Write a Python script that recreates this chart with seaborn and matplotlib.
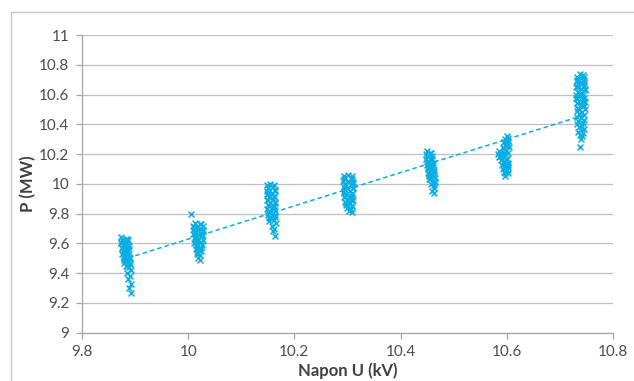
import matplotlib
matplotlib.use("Agg")
import matplotlib.pyplot as plt
import pandas as pd
import seaborn as sns
from matplotlib.patches import Rectangle

# measured points, one pair of lists per voltage step
x1 = [9.874, 9.882, 9.876, 9.886, 9.879, 9.873, 9.884, 9.877, 9.881, 9.888, 9.875, 9.883, 9.889, 9.878, 9.885, 9.876,
      9.887, 9.880, 9.890, 9.882, 9.888, 9.879, 9.891, 9.884, 9.889, 9.892, 9.885, 9.891, 9.887, 9.893, 9.889, 9.892,
      9.885, 9.874, 9.886, 9.876, 9.887, 9.879, 9.889, 9.880, 9.890, 9.883]
y1 = [9.64, 9.63, 9.62, 9.62, 9.61, 9.60, 9.60, 9.59, 9.58, 9.58, 9.57, 9.56, 9.56, 9.55, 9.54, 9.53,
      9.52, 9.51, 9.50, 9.49, 9.48, 9.47, 9.46, 9.45, 9.44, 9.42, 9.40, 9.38, 9.36, 9.33, 9.30, 9.27,
      9.63, 9.61, 9.59, 9.57, 9.55, 9.53, 9.51, 9.49, 9.47, 9.45]

x2 = [10.006, 10.012, 10.022, 10.010, 10.027, 10.016, 10.024, 10.011, 10.019, 10.028, 10.013, 10.023, 10.010, 10.026,
      10.015, 10.012, 10.025, 10.018, 10.027, 10.014, 10.023, 10.011, 10.026, 10.017, 10.021, 10.014, 10.025, 10.016,
      10.022, 10.018, 10.023,
      10.025, 10.011, 10.027, 10.013, 10.026, 10.012, 10.024, 10.014, 10.025, 10.016]
y2 = [9.80, 9.74, 9.73, 9.72, 9.72, 9.71, 9.70, 9.70, 9.69, 9.68, 9.68, 9.67, 9.66, 9.66, 9.65, 9.64,
      9.64, 9.63, 9.62, 9.61, 9.60, 9.60, 9.59, 9.58, 9.57, 9.56, 9.55, 9.53, 9.52, 9.50, 9.49,
      9.73, 9.71, 9.69, 9.67, 9.65, 9.63, 9.61, 9.59, 9.57, 9.54]

x3 = [10.155, 10.149, 10.160, 10.151, 10.163, 10.148, 10.157, 10.150, 10.162, 10.152, 10.159, 10.148, 10.164, 10.154,
      10.150, 10.161, 10.157, 10.149, 10.163, 10.153, 10.160, 10.151, 10.164, 10.156, 10.161, 10.153, 10.165, 10.158,
      10.162, 10.160, 10.163,
      10.161, 10.150, 10.163, 10.149, 10.162, 10.151, 10.164, 10.152, 10.162, 10.150, 10.163, 10.153]
y3 = [10.00, 9.99, 9.98, 9.97, 9.96, 9.95, 9.94, 9.93, 9.92, 9.91, 9.90, 9.89, 9.88, 9.87, 9.86, 9.85,
      9.84, 9.83, 9.82, 9.81, 9.80, 9.79, 9.78, 9.77, 9.76, 9.75, 9.74, 9.72, 9.70, 9.68, 9.65,
      9.99, 9.97, 9.95, 9.93, 9.91, 9.89, 9.87, 9.85, 9.83, 9.81, 9.79, 9.77]

x4 = [10.301, 10.294, 10.306, 10.296, 10.309, 10.292, 10.303, 10.311, 10.295, 10.307, 10.293, 10.300, 10.310, 10.296,
      10.305, 10.293, 10.308, 10.298, 10.304, 10.294, 10.309, 10.299, 10.307, 10.295, 10.305, 10.298, 10.309, 10.300,
      10.307, 10.302, 10.308,
      10.308, 10.293, 10.310, 10.295, 10.311, 10.294, 10.309, 10.296, 10.310, 10.297, 10.308]
y4 = [10.06, 10.05, 10.04, 10.04, 10.03, 10.02, 10.01, 10.00, 10.00, 9.99, 9.98, 9.97, 9.97, 9.96, 9.95, 9.94,
      9.94, 9.93, 9.92, 9.91, 9.91, 9.90, 9.89, 9.88, 9.87, 9.86, 9.85, 9.84, 9.83, 9.82, 9.81,
      10.05, 10.03, 10.01, 9.99, 9.97, 9.95, 9.93, 9.91, 9.89, 9.87, 9.85]

x5 = [10.450, 10.456, 10.447, 10.459, 10.452, 10.448, 10.458, 10.453, 10.461, 10.449, 10.455, 10.460, 10.451, 10.457,
      10.463, 10.452, 10.460, 10.454, 10.464, 10.455, 10.461, 10.465, 10.457, 10.462, 10.463, 10.459, 10.462,
      10.457, 10.449, 10.460, 10.450, 10.461, 10.451, 10.462, 10.453, 10.463, 10.454, 10.464]
y5 = [10.22, 10.21, 10.20, 10.19, 10.18, 10.17, 10.16, 10.15, 10.14, 10.13, 10.12, 10.11, 10.10, 10.09,
      10.08, 10.07, 10.06, 10.05, 10.04, 10.03, 10.02, 10.01, 10.00, 9.99, 9.97, 9.95, 9.94,
      10.21, 10.19, 10.17, 10.15, 10.13, 10.11, 10.09, 10.07, 10.05, 10.03, 10.01]

x6 = [10.601, 10.596, 10.603, 10.594, 10.600, 10.597, 10.604, 10.593, 10.599, 10.586, 10.598, 10.589, 10.584, 10.596,
      10.587, 10.592, 10.585, 10.601, 10.590, 10.596, 10.602, 10.591, 10.597, 10.603, 10.593, 10.600, 10.595, 10.602,
      10.597,
      10.603, 10.595, 10.602, 10.594, 10.603, 10.590, 10.601, 10.593, 10.602, 10.595, 10.601, 10.596]
y6 = [10.32, 10.30, 10.29, 10.28, 10.27, 10.26, 10.25, 10.24, 10.23, 10.22, 10.22, 10.21, 10.20, 10.20,
      10.19, 10.18, 10.18, 10.17, 10.16, 10.15, 10.14, 10.13, 10.12, 10.11, 10.10, 10.09, 10.08, 10.07, 10.05,
      10.31, 10.28, 10.26, 10.24, 10.21, 10.19, 10.17, 10.15, 10.13, 10.11, 10.09, 10.07]

x7 = [10.738, 10.744, 10.732, 10.740, 10.746, 10.733, 10.741, 10.735, 10.745, 10.731, 10.739, 10.747, 10.734, 10.742,
      10.731, 10.737, 10.746, 10.733, 10.741, 10.747, 10.732, 10.739, 10.744, 10.735, 10.748, 10.733, 10.742, 10.736,
      10.745, 10.732, 10.739, 10.746, 10.734, 10.743, 10.733, 10.741, 10.736, 10.745, 10.739, 10.735, 10.743, 10.737,
      10.741, 10.739, 10.738,
      10.746, 10.733, 10.745, 10.732, 10.747, 10.734, 10.744, 10.731, 10.746, 10.733, 10.745, 10.735]
y7 = [10.74, 10.73, 10.72, 10.71, 10.70, 10.69, 10.68, 10.67, 10.66, 10.65, 10.64, 10.63, 10.62, 10.61, 10.60,
      10.59, 10.58, 10.57, 10.56, 10.55, 10.54, 10.53, 10.52, 10.51, 10.50, 10.49, 10.48, 10.47, 10.46, 10.45,
      10.44, 10.43, 10.42, 10.41, 10.40, 10.39, 10.38, 10.37, 10.36, 10.35, 10.34, 10.33, 10.32, 10.30, 10.25,
      10.72, 10.70, 10.68, 10.66, 10.64, 10.62, 10.60, 10.58, 10.56, 10.54, 10.52, 10.50]

x_ticks = [9.8, 10, 10.2, 10.4, 10.6, 10.8]
y_ticks = [9, 9.2, 9.4, 9.6, 9.8, 10, 10.2, 10.4, 10.6, 10.8, 11]
x_labels = ["9.8", "10", "10.2", "10.4", "10.6", "10.8"]
y_labels = ["9", "9.2", "9.4", "9.6", "9.8", "10", "10.2", "10.4", "10.6", "10.8", "11"]

color = "#0aaee3"
grey_text = "#4d4d4d"

df = pd.DataFrame({
    "U": x1 + x2 + x3 + x4 + x5 + x6 + x7,
    "P": y1 + y2 + y3 + y4 + y5 + y6 + y7,
})

sns.set_style("white")
plt.rcParams["font.family"] = ["Lato", "DejaVu Sans"]

fig = plt.figure(figsize=(6.34, 3.81), dpi=100)
ax = fig.add_axes([0.1293, 0.1268, 0.9669 - 0.1293, 0.9081 - 0.1268])

ax.yaxis.grid(True, color="#bfbfbf", linewidth=0.9)
ax.set_axisbelow(True)

sns.scatterplot(data=df, x="U", y="P", marker="x", color=color, s=18, linewidth=1.1, ax=ax, zorder=3)
sns.regplot(data=df, x="U", y="P", scatter=False, ci=None, truncate=True, ax=ax,
            line_kws={"color": color, "linestyle": (0, (3, 2)), "linewidth": 1.1, "zorder": 4})

ax.set_xlim(9.8, 10.8)
ax.set_ylim(9, 11)
ax.set_xticks(x_ticks)
ax.set_xticklabels(x_labels)
ax.set_yticks(y_ticks)
ax.set_yticklabels(y_labels)
ax.tick_params(axis="both", direction="out", length=4, width=0.9, color="#a6a6a6",
               labelsize=11, labelcolor=grey_text, pad=5, bottom=True, left=True)

for side in ["top", "right"]:
    ax.spines[side].set_visible(False)
for side in ["left", "bottom"]:
    ax.spines[side].set_color("#a6a6a6")
    ax.spines[side].set_linewidth(0.9)

ax.set_xlabel("Napon U (kV)", fontsize=12, fontweight="bold", color="#404040", labelpad=2)
ax.set_ylabel("P (MW)", fontsize=12, fontweight="bold", color="#404040", labelpad=2)

# outer chart frame, cut off by the image edge on the right and bottom
fig.patches.append(Rectangle((11 / 634, -0.2), 2, 1.2 - 11.7 / 381,
                             transform=fig.transFigure, fill=False,
                             edgecolor="#c8c8c8", linewidth=1.0))

fig.savefig("out.png", dpi=100)
plt.close(fig)
